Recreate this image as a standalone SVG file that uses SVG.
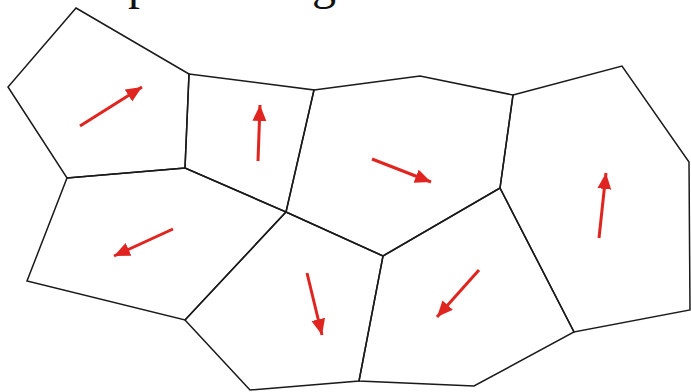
<svg xmlns="http://www.w3.org/2000/svg" width="691" height="392" viewBox="0 0 691 392">
<defs>
<style>
.cell{fill:none;stroke:#1a1a1a;stroke-width:1.5;stroke-linejoin:miter}
.arr{fill:none;stroke:#e0241f;stroke-width:3;marker-end:url(#ah)}
.t{font-family:"Liberation Serif",serif;font-size:48px;fill:#111}
</style>
<marker id="ah" markerUnits="userSpaceOnUse" markerWidth="18" markerHeight="16" refX="16" refY="7" orient="auto">
<path d="M0,0 L16,7 L0,14 Z" fill="#e0241f"/>
</marker>
</defs>
<rect width="691" height="392" fill="#fff"/>
<g id="title">
<text class="t" x="128" y="-1">p</text>
<text class="t" x="312" y="-1">g</text>
</g>
<g id="cells">
<g id="c1"><polygon class="cell" points="76,8 189,74 185,168 67,178 8,87"/></g>
<g id="c2"><polygon class="cell" points="189,74 314,90 286,212 185,168"/></g>
<g id="c3"><polygon class="cell" points="314,90 420,76 513,95 500,188 383,256 286,212"/></g>
<g id="c4"><polygon class="cell" points="513,95 622,66 689,162 690,310 574,332 500,188"/></g>
<g id="c5"><polygon class="cell" points="67,178 185,168 286,212 185,320 27,281"/></g>
<g id="c6"><polygon class="cell" points="286,212 383,256 359,381 250,390 185,320"/></g>
<g id="c7"><polygon class="cell" points="383,256 500,188 574,332 474,386 359,381"/></g>
</g>
<g id="connectors">
<line class="arr" x1="80" y1="126" x2="142" y2="87"/>
<line class="arr" x1="258" y1="161" x2="260" y2="105"/>
<line class="arr" x1="372" y1="159" x2="431" y2="182"/>
<line class="arr" x1="173" y1="229" x2="114" y2="256"/>
<line class="arr" x1="599" y1="238" x2="606" y2="173"/>
<line class="arr" x1="307" y1="273" x2="322" y2="335"/>
<line class="arr" x1="479" y1="270" x2="437" y2="317"/>
</g>
</svg>
